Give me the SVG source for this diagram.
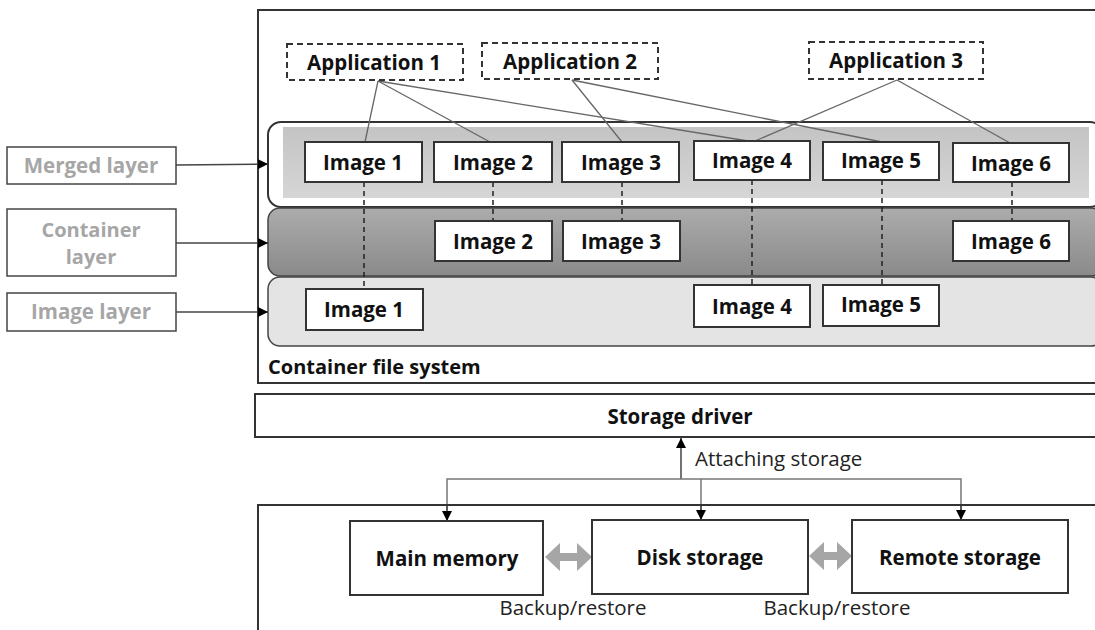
<svg xmlns="http://www.w3.org/2000/svg" width="1095" height="630" viewBox="0 0 1095 630">
<defs>
<linearGradient id="gMerged" x1="0" y1="0" x2="0" y2="1"><stop offset="0" stop-color="#c4c4c4"/><stop offset="1" stop-color="#d6d6d6"/></linearGradient>
<linearGradient id="gCont" x1="0" y1="0" x2="0" y2="1"><stop offset="0" stop-color="#acacac"/><stop offset="1" stop-color="#8a8a8a"/></linearGradient>
<marker id="ah" viewBox="0 0 10 10" refX="10" refY="5" markerWidth="10" markerHeight="10" markerUnits="userSpaceOnUse" orient="auto"><path d="M0,0 L10,5 L0,10 z" fill="#000"/></marker>
<style>
.box{fill:#fff;stroke:#333;stroke-width:2}
.app{fill:#fff;stroke:#333;stroke-width:2;stroke-dasharray:6,4}
.b{font-family:"Open Sans","Noto Sans","DejaVu Sans",sans-serif;font-weight:bold;font-size:20.5px;fill:#111;text-anchor:middle}
.lbl{font-family:"Open Sans","Noto Sans","DejaVu Sans",sans-serif;font-weight:bold;font-size:20.5px;fill:#a6a6a6;text-anchor:middle}
.n{font-family:"Open Sans","Noto Sans","DejaVu Sans",sans-serif;font-size:20.5px;fill:#222}
.al{stroke:#666;stroke-width:1.3;fill:none}
.dl{stroke:#222;stroke-width:1.5;stroke-dasharray:5,4;fill:none}
.ar{stroke:#444;stroke-width:1.5;fill:none;marker-end:url(#ah)}
.ag{stroke:#777;stroke-width:1.5;fill:none}
</style>
</defs>
<rect width="1095" height="630" fill="#fff"/>

<g id="container-fs">
<rect x="258" y="10" width="845" height="373" fill="#fff" stroke="#333" stroke-width="2"/>
<text class="b" x="268" y="374" style="text-anchor:start;font-size:20px">Container file system</text>
</g>

<g id="merged-layer-band">
<rect x="268" y="122" width="835" height="85" rx="13" fill="#fff" stroke="#333" stroke-width="2"/>
<rect x="283" y="127" width="806" height="71" fill="url(#gMerged)"/>
</g>
<g id="container-layer-band">
<rect x="268" y="208" width="835" height="68" rx="12" fill="url(#gCont)" stroke="#444" stroke-width="1.5"/>
</g>
<g id="image-layer-band">
<rect x="268" y="277" width="835" height="69" rx="12" fill="#e4e4e4" stroke="#444" stroke-width="1.5"/>
</g>

<g id="connectors">
<line class="al" x1="378" y1="81" x2="365" y2="142"/>
<line class="al" x1="378" y1="81" x2="490" y2="142"/>
<line class="al" x1="378" y1="81" x2="748" y2="141"/>
<line class="al" x1="572" y1="80" x2="622" y2="142"/>
<line class="al" x1="572" y1="80" x2="882" y2="142"/>
<line class="al" x1="897" y1="80" x2="755" y2="141"/>
<line class="al" x1="897" y1="80" x2="1010" y2="143"/>
<line class="dl" x1="364" y1="182" x2="364" y2="289"/>
<line class="dl" x1="493" y1="182" x2="493" y2="221"/>
<line class="dl" x1="622" y1="182" x2="622" y2="221"/>
<line class="dl" x1="752" y1="180" x2="752" y2="285"/>
<line class="dl" x1="882" y1="180" x2="882" y2="285"/>
<line class="dl" x1="1012" y1="182" x2="1012" y2="221"/>
<line class="ar" x1="176" y1="165" x2="268" y2="164"/>
<line class="ar" x1="176" y1="243" x2="268" y2="243"/>
<line class="ar" x1="176" y1="312" x2="268" y2="312"/>
<line class="ar" x1="681" y1="479" x2="681" y2="438"/>
<polyline class="ag" points="447,510 447,479 961,479 961,510"/>
<line class="ag" x1="701" y1="479" x2="701" y2="510"/>
<line class="ar" x1="447" y1="505" x2="447" y2="521"/>
<line class="ar" x1="701" y1="505" x2="701" y2="520"/>
<line class="ar" x1="961" y1="505" x2="961" y2="520"/>
<path d="M545,557 L560,543 L560,553 L577,553 L577,543 L592,557 L577,571 L577,561 L560,561 L560,571 Z" fill="#a6a6a6"/>
<path d="M809,556 L824,542 L824,552 L837,552 L837,542 L852,556 L837,570 L837,560 L824,560 L824,570 Z" fill="#a6a6a6"/>
<text class="n" x="695" y="466">Attaching storage</text>
<text class="n" x="573" y="615" style="text-anchor:middle">Backup/restore</text>
<text class="n" x="837" y="615" style="text-anchor:middle">Backup/restore</text>
</g>

<g id="label-merged"><rect x="7" y="147" width="169" height="37" fill="#fff" stroke="#444" stroke-width="1.5"/><text class="lbl" x="91" y="173">Merged layer</text></g>
<g id="label-container"><rect x="7" y="209" width="169" height="67" fill="#fff" stroke="#444" stroke-width="1.5"/><text class="lbl" x="91" y="237" style="font-size:20px">Container</text><text class="lbl" x="91" y="264" style="font-size:20px">layer</text></g>
<g id="label-image"><rect x="7" y="293" width="169" height="38" fill="#fff" stroke="#444" stroke-width="1.5"/><text class="lbl" x="91" y="319">Image layer</text></g>

<g id="app1"><rect class="app" x="287" y="44" width="176" height="36"/><text class="b" x="374" y="70">Application 1</text></g>
<g id="app2"><rect class="app" x="482" y="43" width="176" height="36"/><text class="b" x="570" y="69">Application 2</text></g>
<g id="app3"><rect class="app" x="809" y="42" width="174" height="37"/><text class="b" x="896" y="68">Application 3</text></g>

<g id="m-img1"><rect class="box" x="305" y="142" width="117" height="40"/><text class="b" x="363" y="170">Image 1</text></g>
<g id="m-img2"><rect class="box" x="434" y="142" width="118" height="40"/><text class="b" x="493" y="170">Image 2</text></g>
<g id="m-img3"><rect class="box" x="562" y="142" width="117" height="40"/><text class="b" x="621" y="170">Image 3</text></g>
<g id="m-img4"><rect class="box" x="694" y="141" width="116" height="39"/><text class="b" x="752" y="168">Image 4</text></g>
<g id="m-img5"><rect class="box" x="823" y="142" width="116" height="38"/><text class="b" x="881" y="168">Image 5</text></g>
<g id="m-img6"><rect class="box" x="953" y="143" width="116" height="39"/><text class="b" x="1011" y="171">Image 6</text></g>

<g id="c-img2"><rect class="box" x="435" y="221" width="117" height="40"/><text class="b" x="493" y="249">Image 2</text></g>
<g id="c-img3"><rect class="box" x="563" y="221" width="117" height="40"/><text class="b" x="621" y="249">Image 3</text></g>
<g id="c-img6"><rect class="box" x="953" y="221" width="116" height="40"/><text class="b" x="1011" y="249">Image 6</text></g>

<g id="i-img1"><rect class="box" x="306" y="289" width="117" height="41"/><text class="b" x="364" y="317">Image 1</text></g>
<g id="i-img4"><rect class="box" x="694" y="285" width="116" height="42"/><text class="b" x="752" y="314">Image 4</text></g>
<g id="i-img5"><rect class="box" x="823" y="285" width="116" height="41"/><text class="b" x="881" y="312">Image 5</text></g>

<g id="storage-driver"><rect x="255" y="394" width="850" height="43" fill="#fff" stroke="#333" stroke-width="2"/><text class="b" x="680" y="424">Storage driver</text></g>

<g id="storage-area"><rect x="258" y="505" width="850" height="140" fill="none" stroke="#333" stroke-width="2"/></g>
<g id="main-memory"><rect class="box" x="350" y="521" width="193" height="74"/><text class="b" x="447" y="566">Main memory</text></g>
<g id="disk-storage"><rect class="box" x="592" y="520" width="216" height="74"/><text class="b" x="700" y="565">Disk storage</text></g>
<g id="remote-storage"><rect class="box" x="852" y="520" width="216" height="73"/><text class="b" x="960" y="565">Remote storage</text></g>
</svg>
